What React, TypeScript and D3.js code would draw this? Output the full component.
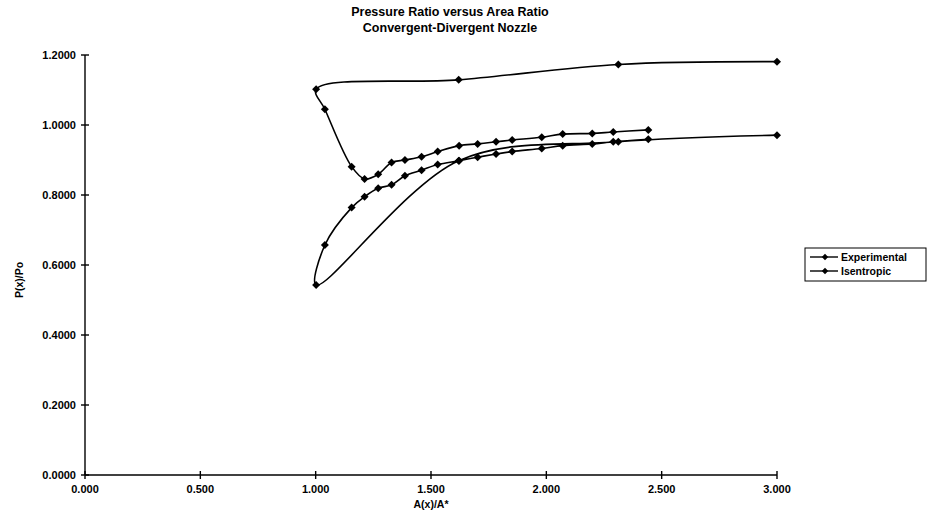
import React from "react";
import * as d3 from "d3";

// A(x)/A* at each pressure tap (inlet -> throat -> exit)
const areaRatio = [
  3.0, 2.312, 1.62, 1.002, 1.04, 1.156, 1.212, 1.271, 1.329, 1.387, 1.459,
  1.529, 1.622, 1.702, 1.782, 1.852, 1.98, 2.071, 2.199, 2.29, 2.442,
];
const experimental = [
  1.181, 1.173, 1.129, 1.102, 1.045, 0.881, 0.846, 0.859, 0.893, 0.9, 0.909,
  0.924, 0.941, 0.946, 0.952, 0.957, 0.965, 0.974, 0.976, 0.98, 0.986,
];
const isentropic = [
  0.971, 0.952, 0.898, 0.543, 0.657, 0.764, 0.795, 0.819, 0.829, 0.855, 0.871,
  0.887, 0.898, 0.908, 0.917, 0.924, 0.933, 0.941, 0.946, 0.952, 0.959,
];
const seriesNames = ["Experimental", "Isentropic"];
const xTicks = [0, 0.5, 1, 1.5, 2, 2.5, 3];
const yTicks = [0, 0.2, 0.4, 0.6, 0.8, 1.0, 1.2];

const W = 928;
const H = 524;
const font = "'Liberation Sans', Arial, sans-serif";

const x = d3.scaleLinear().domain([0, 3]).range([85, 777]);
const y = d3.scaleLinear().domain([0, 1.2]).range([475, 55]);

const line = d3
  .line<[number, number]>()
  .x((d) => x(d[0]))
  .y((d) => y(d[1]))
  .curve(d3.curveCatmullRom.alpha(0.5));

const diamond = "M0,-4L4,0L0,4L-4,0Z";

const series = [experimental, isentropic].map((vals) =>
  areaRatio.map((a, i) => [a, vals[i]] as [number, number])
);

export default function App() {
  return (
    <svg
      width={W}
      height={H}
      style={{ position: "absolute", left: 0, top: 0, background: "#fff" }}
      fontFamily={font}
    >
      <g textAnchor="middle" fontWeight="bold" fontSize={12.5}>
        <text x={450} y={16}>Pressure Ratio versus Area Ratio</text>
        <text x={450} y={32}>Convergent-Divergent Nozzle</text>
      </g>

      {/* axes */}
      <g stroke="#000" strokeWidth={1.4}>
        <line x1={x(0)} x2={x(0)} y1={y(1.2)} y2={y(0)} />
        <line x1={x(0)} x2={x(3)} y1={y(0)} y2={y(0)} />
        {yTicks.map((t) => (
          <line key={"yt" + t} x1={x(0) - 4} x2={x(0) + 4} y1={y(t)} y2={y(t)} />
        ))}
        {xTicks.map((t) => (
          <line key={"xt" + t} x1={x(t)} x2={x(t)} y1={y(0) - 4} y2={y(0) + 4} />
        ))}
      </g>
      <g fontSize={11} fontWeight="bold" fill="#000">
        {yTicks.map((t) => (
          <text key={"yl" + t} x={x(0) - 9} y={y(t) + 4} textAnchor="end">
            {d3.format(".4f")(t)}
          </text>
        ))}
        {xTicks.map((t) => (
          <text key={"xl" + t} x={x(t)} y={y(0) + 18} textAnchor="middle">
            {d3.format(".3f")(t)}
          </text>
        ))}
        <text x={431} y={508} textAnchor="middle" fontSize={10.5}>A(x)/A*</text>
        <text transform={`translate(23,${280}) rotate(-90)`} textAnchor="middle" fontSize={10.5}>
          P(x)/Po
        </text>
      </g>

      {/* series */}
      {series.map((pts, si) => (
        <g key={"s" + si}>
          <path d={line(pts) ?? ""} fill="none" stroke="#000" strokeWidth={1.6} />
          {pts.map((p, i) => (
            <path key={i} d={diamond} transform={`translate(${x(p[0])},${y(p[1])})`} fill="#000" />
          ))}
        </g>
      ))}

      {/* legend */}
      <g>
        <rect x={805} y={248} width={121} height={33} fill="#fff" stroke="#000" strokeWidth={1} />
        {seriesNames.map((n, i) => (
          <g key={n} transform={`translate(0,${257 + i * 14})`}>
            <line x1={810} x2={838} y1={0} y2={0} stroke="#000" strokeWidth={1.4} />
            <path d={diamond} transform="translate(825,0) scale(0.8)" fill="#000" />
            <text x={841} y={4} fontSize={10.5} fontWeight="bold">{n}</text>
          </g>
        ))}
      </g>
    </svg>
  );
}
